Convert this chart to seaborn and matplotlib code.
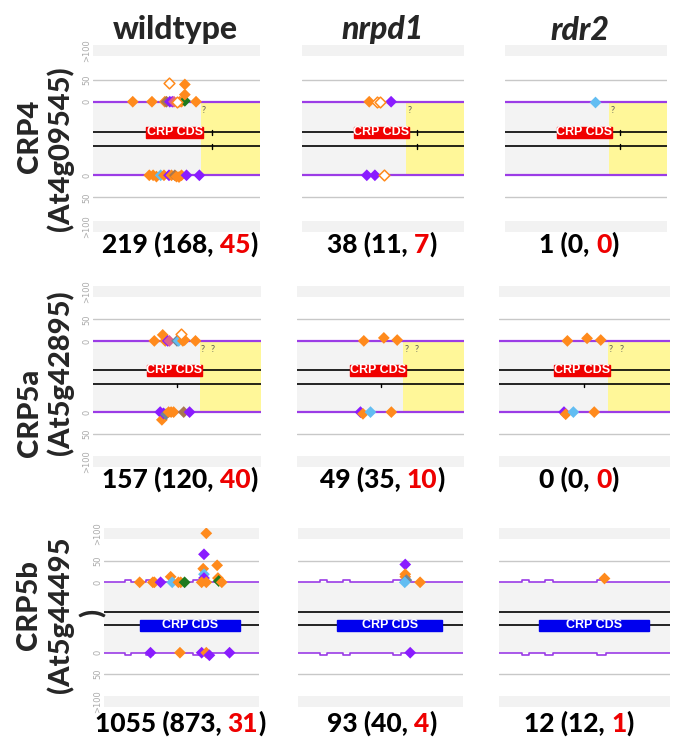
import numpy as np
import pandas as pd
import matplotlib
matplotlib.use('Agg')
import matplotlib.pyplot as plt
from matplotlib.patches import Rectangle
import seaborn as sns

# labels
genotypes = ['wildtype', 'nrpd1', 'rdr2']
gene_lines = [['CRP4', '(At4g09545)'],
              ['CRP5a', '(At5g42895)'],
              ['CRP5b', '(At5g44495', ')']]

# read counts under each panel: total (unique, in CDS)
totals_crp4 = [(219, 168, 45), (38, 11, 7), (1, 0, 0)]
totals_crp5a = [(157, 120, 40), (49, 35, 10), (0, 0, 0)]
totals_crp5b = [(1055, 873, 31), (93, 40, 4), (12, 12, 1)]

# small RNA reads: (position along locus 0-100, strand, reads, kind)
wt_crp4 = [(23.8, '+', 0, 'orange'), (35.3, '+', 0, 'orange'), (43, '+', 0, 'orange'),
           (44, '+', 0, 'brown'), (46, '+', 0, 'purple'), (47.5, '+', 0, 'purple'),
           (48.5, '+', 0, 'pink'), (50.5, '+', 0, 'open'), (52, '+', 0, 'orange'),
           (53, '+', 0, 'orange'), (55, '+', 2, 'green'), (61.7, '+', 0, 'orange'),
           (45.7, '+', 43, 'open'), (55, '+', 39, 'orange'), (55, '+', 16, 'orange'),
           (33.7, '-', 0, 'orange'), (36, '-', 0, 'orange'), (38, '-', 3, 'orange'),
           (40.5, '-', 0, 'blue'), (42.5, '-', 0, 'orange'), (45.5, '-', 0, 'purple'),
           (47, '-', 0, 'orange'), (49, '-', 0, 'brown'), (50, '-', 3, 'orange'),
           (51.5, '-', 4, 'orange'), (53, '-', 0, 'orange'), (56, '-', 0, 'purple'),
           (63.7, '-', 0, 'purple')]
nrpd1_crp4 = [(41.5, '+', 0, 'orange'), (46.5, '+', 0, 'open'), (48, '+', 0, 'open'),
              (55, '+', 0, 'purple'), (40, '-', 0, 'purple'), (45, '-', 0, 'purple'),
              (50.5, '-', 0, 'open')]
rdr2_crp4 = [(55.7, '+', 0, 'blue')]

wt_crp5a = [(36.5, '+', 0, 'orange'), (41.5, '+', 14, 'orange'), (43, '+', 0, 'orange'),
            (44.5, '+', 0, 'purple'), (45.5, '+', 0, 'pink'), (50, '+', 0, 'gray'),
            (51, '+', 0, 'blue'), (52.5, '+', 16, 'open'), (53.5, '+', 0, 'orange'),
            (54.5, '+', 2, 'orange'), (61, '+', 0, 'orange'),
            (40, '-', 0, 'purple'), (41, '-', 18, 'orange'), (42, '-', 3, 'purple'),
            (43.5, '-', 5, 'gray'), (45, '-', 0, 'orange'), (46.5, '-', 0, 'orange'),
            (48, '-', 0, 'orange'), (54, '-', 0, 'brown'), (57.5, '-', 0, 'purple')]
nrpd1_crp5a = [(40, '+', 0, 'orange'), (52, '+', 7, 'orange'), (60, '+', 2, 'orange'),
               (38, '-', 0, 'purple'), (39.5, '-', 4, 'orange'), (44, '-', 0, 'blue'),
               (56.5, '-', 0, 'orange')]
rdr2_crp5a = [(40, '+', 0, 'orange'), (51.5, '+', 6, 'orange'), (59.5, '+', 2, 'orange'),
              (38, '-', 0, 'purple'), (39, '-', 5, 'orange'), (43.5, '-', 0, 'blue'),
              (55.7, '-', 0, 'orange')]

wt_crp5b = [(23, '+', 0, 'orange'), (31.5, '+', 0, 'orange'), (32.5, '+', 0, 'orange'),
            (36.5, '+', 0, 'purple'), (43, '+', 13, 'orange'), (44, '+', 0, 'blue'),
            (48, '+', 0, 'orange'), (49.5, '+', 0, 'orange'), (52, '+', 0, 'green'),
            (66, '+', 150, 'orange'), (64.5, '+', 66, 'purple'), (64, '+', 32, 'orange'),
            (64.5, '+', 19, 'blue'), (64.5, '+', 10, 'purple'), (63, '+', 0, 'orange'),
            (66, '+', 0, 'orange'), (73, '+', 40, 'orange'), (73.5, '+', 10, 'orange'),
            (74, '+', 3, 'green'), (76, '+', 0, 'orange'),
            (30, '-', 0, 'purple'), (49, '-', 0, 'orange'), (63, '-', 0, 'purple'),
            (66, '-', 0, 'orange'), (68, '-', 6, 'purple'), (81, '-', 0, 'purple')]
nrpd1_crp5b = [(65, '+', 42, 'purple'), (65, '+', 19, 'orange'), (65, '+', 13, 'orange'),
               (65.7, '+', 5, 'gray'), (64.7, '+', 0, 'blue'), (74, '+', 0, 'orange'),
               (68, '-', 0, 'purple')]
rdr2_crp5b = [(61.3, '+', 11, 'orange')]

# coverage trace steps for CRP5b (start, end)
bump_start = [13.5, 27, 57.5]
bump_end = [17.5, 31.5, 62.5]

panels = [[wt_crp4, nrpd1_crp4, rdr2_crp4],
          [wt_crp5a, nrpd1_crp5a, rdr2_crp5a],
          [wt_crp5b, nrpd1_crp5b, rdr2_crp5b]]
totals = [totals_crp4, totals_crp5a, totals_crp5b]

palette = {'orange': '#ff8a1c', 'purple': '#8a1cff', 'blue': '#62bdf2', 'green': '#1e7a1e',
           'brown': '#a8774f', 'pink': '#e0608a', 'gray': '#6f8496'}

sns.set_style('white')
plt.rcParams['font.family'] = ['Lato', 'DejaVu Sans']
HEAVY = 'black'

W, H = 685, 755
fig = plt.figure(figsize=(W / 100, H / 100), dpi=100)

# layout in pixels
row_y = [(45, 232), (286, 467), (528, 707)]
col_x = [[(93, 260), (302, 464), (505, 667)],
         [(93, 261), (297, 464), (499, 670)],
         [(104, 259), (298, 463), (499, 670)]]

GAP = 166            # distance between the two strand baselines
BAND = (103, 128)    # ">100" band
LINE_A, LINE_B = -69, -101
STRAND_C = '#9b3ce6'


def to_y(df):
    shown = np.where(df['reads'] > 100, (BAND[0] + BAND[1]) / 2, df['reads'])
    return np.where(df['strand'] == '+', shown, -GAP - shown)


for r in range(3):
    for c in range(3):
        x0, x1 = col_x[r][c]
        y0, y1 = row_y[r]
        ax = fig.add_axes([x0 / W, 1 - y1 / H, (x1 - x0) / W, (y1 - y0) / H])
        for s in ax.spines.values():
            s.set_visible(False)

        # bands and grid
        ax.axhspan(BAND[0], BAND[1], color='#f2f2f2', lw=0)
        ax.axhspan(-GAP - BAND[1], -GAP - BAND[0], color='#f2f2f2', lw=0)
        ax.axhline(50, color='#c8c8c8', lw=1)
        ax.axhline(-GAP - 50, color='#c8c8c8', lw=1)

        # locus background
        if r < 2:
            ystart = 64.5 if r == 0 else 63.5
            ax.fill_between([0, ystart], -GAP, 0, color='#f3f3f3', lw=0)
            ax.fill_between([ystart, 100], -GAP, 0, color='#fff799', lw=0)
        else:
            ax.fill_between([0, 100], -GAP, 0, color='#f3f3f3', lw=0)

        # gene model lines
        ax.axhline(LINE_A, color='black', lw=1.2)
        ax.axhline(LINE_B, color='black', lw=1.2)

        if r == 0:
            ax.add_patch(Rectangle((32, LINE_A - 13), 34, 26, color='#f00000', zorder=3))
            ax.text(49, LINE_A, 'CRP CDS', color='white', fontsize=9, fontweight='bold',
                    family='Liberation Sans', ha='center', va='center', zorder=4)
            for ly in (LINE_A, LINE_B):
                ax.plot([71, 71], [ly - 5, ly + 6], color='black', lw=1)
            ax.text(66.5, -19, '?', fontsize=6.5, color='#555555', ha='center', va='center')
        elif r == 1:
            ax.add_patch(Rectangle((32, LINE_A - 13), 33, 26, color='#f00000', zorder=3))
            ax.text(48.5, LINE_A, 'CRP CDS', color='white', fontsize=9, fontweight='bold',
                    family='Liberation Sans', ha='center', va='center', zorder=4)
            ax.plot([50, 50], [LINE_B, LINE_B - 7], color='black', lw=1)
            for qx in (65.5, 71.5):
                ax.text(qx, -19, '?', fontsize=6.5, color='#555555', ha='center', va='center')
        else:
            ax.add_patch(Rectangle((23.5, LINE_B - 13), 64, 26, color='#0000ee', zorder=3))
            ax.text(55.5, LINE_B, 'CRP CDS', color='white', fontsize=9, fontweight='bold',
                    family='Liberation Sans', ha='center', va='center', zorder=4)

        # strand baselines
        if r < 2:
            ax.axhline(0, color=STRAND_C, lw=1.6, zorder=2)
            ax.axhline(-GAP, color=STRAND_C, lw=1.6, zorder=2)
        else:
            xs = [0]
            ys = [0]
            for b0, b1 in zip(bump_start, bump_end):
                xs += [b0, b0, b1, b1]
                ys += [0, 5, 5, 0]
            xs.append(100)
            ys.append(0)
            xs = np.array(xs)
            ys = np.array(ys)
            ax.plot(xs, ys, color=STRAND_C, lw=1.2, zorder=2)
            ax.plot(xs, -GAP - ys, color=STRAND_C, lw=1.2, zorder=2)

        # reads
        df = pd.DataFrame(panels[r][c], columns=['pos', 'strand', 'reads', 'kind'])
        df['y'] = to_y(df)
        filled = df[df['kind'] != 'open']
        opened = df[df['kind'] == 'open']
        if len(filled):
            sns.scatterplot(data=filled, x='pos', y='y', hue='kind', palette=palette,
                            marker='D', s=36, linewidth=0, legend=False, ax=ax, zorder=5)
        if len(opened):
            sns.scatterplot(data=opened, x='pos', y='y', marker='D', s=30, color='white',
                            edgecolor='#ff8a1c', linewidth=1.1, legend=False, ax=ax, zorder=6)
        ax.set_xlim(0, 100)
        ax.set_ylim(-GAP - BAND[1], BAND[1])
        ax.set(xlabel='', ylabel='')
        ax.set_xticks([])
        if c == 0:
            mid = (BAND[0] + BAND[1]) / 2
            ax.set_yticks([mid, 50, 0, -GAP, -GAP - 50, -GAP - mid])
            ax.set_yticklabels(['>100', '50', '0', '0', '50', '>100'])
            ax.tick_params(axis='y', length=0, pad=1, labelsize=6, labelcolor='#aaaaaa',
                           labelrotation=90)
            for t in ax.get_yticklabels():
                t.set_family('DejaVu Sans')
                t.set_va('center')
        else:
            ax.set_yticks([])

# column titles
title_x = [175, 383, 580]
for name, tx in zip(genotypes, title_x):
    fig.text(tx / W, 1 - 30 / H, name, fontsize=23, fontweight=HEAVY,
             style='normal' if name == 'wildtype' else 'italic',
             ha='center', va='center')

# row labels
label_pos = [[(30, 136), (60, 149)],
             [(30, 413), (60, 373)],
             [(29, 605), (60, 615), (93, 613)]]
for lines, pos in zip(gene_lines, label_pos):
    for txt, (lx, ly) in zip(lines, pos):
        fig.text(lx / W, 1 - ly / H, txt, fontsize=21, fontweight=HEAVY, rotation=90,
                 ha='center', va='center')

# totals below panels: black text with the CDS count in red
renderer = fig.canvas.get_renderer()
count_y = [244, 479, 723]
count_x = [180, 382, 579]
CSIZE = 19


def ink_width(s):
    t = fig.text(0, 0, s, fontsize=CSIZE, fontweight=HEAVY)
    w = t.get_window_extent(renderer).width
    t.remove()
    return w


for r in range(3):
    for c in range(3):
        tot, uniq, cds = totals[r][c]
        head = f'{tot} ({uniq},'
        full = f'{tot} ({uniq}, {cds})'
        full_w = ink_width(full)
        left = count_x[c] - full_w / 2
        red_x = left + ink_width(f'{head} {cds}') - ink_width(f'{cds}')
        close_x = left + full_w - ink_width(')')
        base = 1 - (count_y[r] + 9) / H
        for txt, px, col in [(head, left, 'black'), (f'{cds}', red_x, '#ee0000'),
                             (')', close_x, 'black')]:
            fig.text(px / W, base, txt, fontsize=CSIZE, fontweight=HEAVY, color=col,
                     ha='left', va='baseline')

fig.savefig('out.png', dpi=100)
